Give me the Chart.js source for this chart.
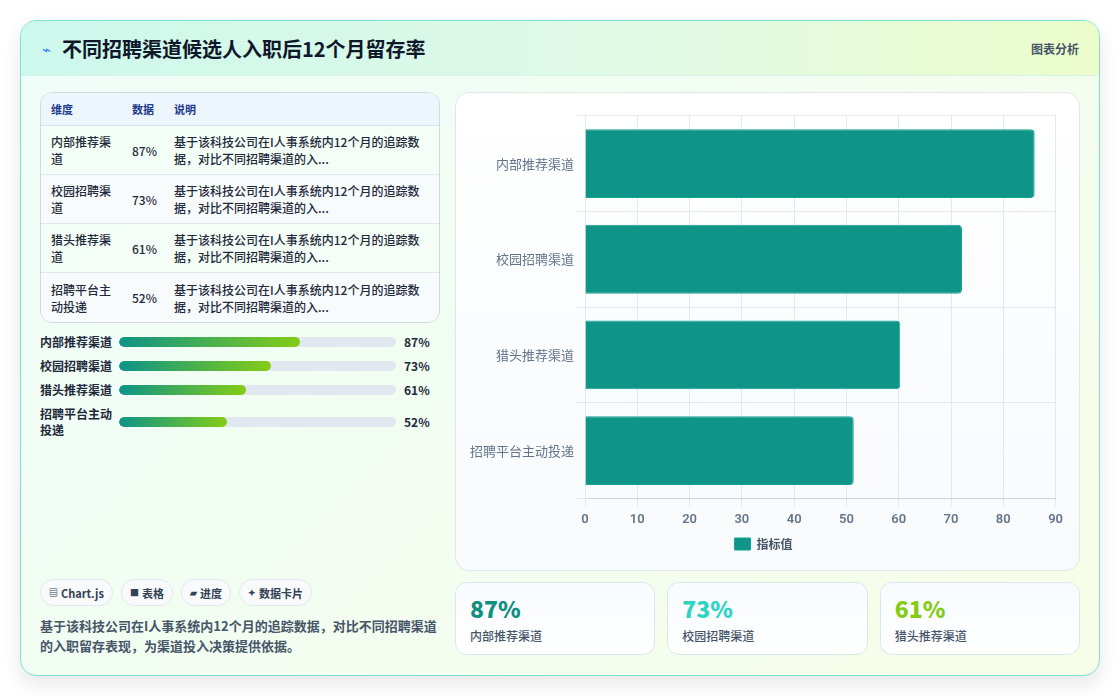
<!DOCTYPE html>
<html lang="zh-CN">
<head>
<meta charset="UTF-8">
<title>不同招聘渠道候选人入职后12个月留存率</title>
<script src="https://cdn.jsdelivr.net/npm/chart.js@4.4.1/dist/chart.umd.min.js"></script>
<style>
  * { box-sizing: border-box; }
  body {
    margin: 0;
    width: 1120px;
    height: 696px;
    background: #ffffff;
    font-family: "Noto Sans CJK SC", "Noto Sans", sans-serif;
    color: #1e293b;
    overflow: hidden;
  }
  .card {
    position: absolute;
    left: 20px;
    top: 20px;
    width: 1080px;
    height: 656px;
    border: 1px solid #7ee0cf;
    border-radius: 16px;
    background: linear-gradient(135deg, #effdf9 0%, #f3fdf0 55%, #f7fee7 100%);
    box-shadow: 0 8px 18px rgba(15, 23, 42, 0.10);
    overflow: hidden;
  }
  .header {
    height: 55px;
    display: flex;
    align-items: center;
    justify-content: space-between;
    padding: 0 20px 0 21px;
    background: linear-gradient(90deg, #cdf8ec 0%, #dff9e6 55%, #ecfccb 100%);
    border-bottom: 1px solid #d7f3ea;
  }
  .header h1 {
    margin: 0;
    font-size: 20px;
    font-weight: 700;
    color: #0f172a;
    display: flex;
    align-items: center;
  }
  .header h1 .icone {
    color: #3b82f6;
    font-size: 15px;
    margin-right: 11px;
    font-weight: 400;
  }
  .header .tag {
    font-size: 12px;
    font-weight: 700;
    color: #475569;
  }
  .corpo {
    position: absolute;
    left: 19px;
    top: 71px;
    right: 19px;
    bottom: 19px;
    display: flex;
    gap: 15px;
  }
  .esquerda {
    width: 400px;
    display: flex;
    flex-direction: column;
  }
  .direita {
    flex: 1;
    display: flex;
    flex-direction: column;
    gap: 11px;
  }
  table {
    width: 400px;
    border-collapse: separate;
    border-spacing: 0;
    border: 1px solid #cfdae6;
    border-radius: 12px;
    overflow: hidden;
    background: rgba(255, 255, 255, 0.55);
    font-size: 12px;
  }
  th {
    text-align: left;
    font-size: 11px;
    font-weight: 700;
    color: #1e3a8a;
    background: #edf5fd;
    height: 33px;
    padding: 0 10px;
    border-bottom: 1px solid #d6e0ea;
  }
  td {
    padding: 7px 10px;
    height: 49px;
    line-height: 17px;
    font-weight: 500;
    color: #1e293b;
    border-bottom: 1px solid #e2e8f0;
    vertical-align: middle;
  }
  tr:last-child td { border-bottom: none; }
  tbody tr:nth-child(odd) td { background: rgba(240, 253, 244, 0.6); }
  tbody tr:nth-child(even) td { background: rgba(248, 250, 252, 0.8); }
  .c1 { width: 81px; }
  .c2 { width: 42px; padding-right: 0; }
  .c3 { padding-right: 6px; }
  .progresso {
    margin-top: 11px;
  }
  .linha {
    display: flex;
    align-items: center;
    margin-bottom: 8px;
    line-height: 16px;
  }
  .linha .nome {
    width: 79px;
    font-size: 12px;
    font-weight: 600;
    line-height: 16px;
    color: #1e293b;
  }
  .linha .trilho {
    width: 277px;
    height: 10px;
    border-radius: 5px;
    background: #e2e8f0;
    overflow: hidden;
  }
  .linha .barra {
    height: 100%;
    border-radius: 5px;
    background: linear-gradient(90deg, #0d9488, #84cc16);
  }
  .linha .pct {
    margin-left: 8px;
    font-size: 12px;
    font-weight: 700;
    color: #1e293b;
  }
  .rodape {
    margin-top: auto;
  }
  .chips {
    display: flex;
    gap: 8px;
  }
  .chip {
    height: 27px;
    padding: 0 8px;
    border: 1px solid #e2e8f0;
    border-radius: 14px;
    background: #f8fafc;
    font-size: 11px;
    font-weight: 700;
    color: #334155;
    display: flex;
    align-items: center;
  }
  .chip .ic { font-size: 9px; margin-right: 3px; }
  .resumo {
    margin: 10px 0 0 0;
    font-size: 13px;
    line-height: 20px;
    font-weight: 600;
    color: #475569;
  }
  .painel {
    height: 479px;
    border: 1px solid #dfe7ee;
    border-radius: 14px;
    background: linear-gradient(180deg, #ffffff 0%, #f8fafc 100%);
    padding: 12px 10px 10px 10px;
    position: relative;
  }
  .painel .caixa {
    position: relative;
    width: 100%;
    height: 100%;
  }
  .cartoes {
    display: flex;
    gap: 12px;
  }
  .kpi {
    flex: 1;
    height: 73px;
    border: 1px solid #d9e8ef;
    border-radius: 12px;
    background: linear-gradient(180deg, #f8fbff 0%, #ffffff 100%);
    padding: 10px 14px;
  }
  .kpi .valor {
    font-size: 23px;
    font-weight: 800;
    line-height: 31px;
  }
  .kpi .rotulo {
    font-size: 12px;
    font-weight: 500;
    color: #475569;
    margin-top: 3px;
  }
</style>
</head>
<body>
<div class="card">
  <div class="header">
    <h1><span class="icone">⌁</span>不同招聘渠道候选人入职后12个月留存率</h1>
    <span class="tag">图表分析</span>
  </div>
  <div class="corpo">
    <div class="esquerda">
      <table>
        <thead>
          <tr><th class="c1">维度</th><th class="c2">数据</th><th>说明</th></tr>
        </thead>
        <tbody id="corpoTabela"></tbody>
      </table>
      <div class="progresso" id="listaProgresso"></div>
      <div class="rodape">
        <div class="chips">
          <span class="chip"><span class="ic">▤</span>Chart.js</span>
          <span class="chip"><span class="ic">■</span>表格</span>
          <span class="chip"><span class="ic">▰</span>进度</span>
          <span class="chip"><span class="ic">✦</span>数据卡片</span>
        </div>
        <p class="resumo">基于该科技公司在I人事系统内12个月的追踪数据，对比不同招聘渠道的入职留存表现，为渠道投入决策提供依据。</p>
      </div>
    </div>
    <div class="direita">
      <div class="painel">
        <div class="caixa"><canvas id="grafico"></canvas></div>
      </div>
      <div class="cartoes" id="cartoes"></div>
    </div>
  </div>
</div>

<script>
// dados
const canais = ['内部推荐渠道', '校园招聘渠道', '猎头推荐渠道', '招聘平台主动投递']
const taxas = [87, 73, 61, 52]                  // valores mostrados no texto (%)
const valoresGrafico = [86, 72.1, 60.3, 51.4]
const descricao = '基于该科技公司在I人事系统内12个月的追踪数据，对比不同招聘渠道的入...'
const nomeSerie = '指标值'
const coresCartao = ['#0f8f80', '#2dd4bf', '#84cc16']

// tabela
const corpoTabela = document.getElementById('corpoTabela')
for(let i = 0; i < canais.length; i++){
    const tr = document.createElement('tr')
    tr.innerHTML = `<td class="c1">${canais[i]}</td><td class="c2">${taxas[i]}%</td><td class="c3">${descricao}</td>`
    corpoTabela.appendChild(tr)
}

// barras de progresso
const listaProgresso = document.getElementById('listaProgresso')
for(let i = 0; i < canais.length; i++){
    const linha = document.createElement('div')
    linha.className = 'linha'
    linha.innerHTML = `<div class="nome">${canais[i]}</div>
        <div class="trilho"><div class="barra" style="width:${taxas[i] * 0.75}%"></div></div>
        <div class="pct">${taxas[i]}%</div>`
    listaProgresso.appendChild(linha)
}

// cartoes
const cartoes = document.getElementById('cartoes')
for(let i = 0; i < 3; i++){
    const div = document.createElement('div')
    div.className = 'kpi'
    div.innerHTML = `<div class="valor" style="color:${coresCartao[i]}">${taxas[i]}%</div><div class="rotulo">${canais[i]}</div>`
    cartoes.appendChild(div)
}

// grafico
const ctx = document.getElementById('grafico')
new Chart(ctx, {
    type: 'bar',
    data: {
        labels: canais,
        datasets: [{
            label: nomeSerie,
            data: valoresGrafico,
            backgroundColor: '#0f9488',
            borderColor: '#14a394',
            borderWidth: 1,
            borderRadius: 4,
            borderSkipped: 'start'
        }]
    },
    options: {
        indexAxis: 'y',
        responsive: true,
        maintainAspectRatio: false,
        animation: false,
        layout: { padding: { top: 3, right: 9, left: 1, bottom: 0 } },
        scales: {
            x: {
                beginAtZero: true,
                grid: { color: '#e2e8f0' },
                border: { color: '#cbd5e1' },
                ticks: {
                    color: '#64748b',
                    padding: 6,
                    font: { size: 13, weight: '600', family: 'Roboto, "Noto Sans", sans-serif' }
                }
            },
            y: {
                grid: { color: '#e2e8f0' },
                border: { color: '#e2e8f0' },
                ticks: {
                    color: '#64748b',
                    padding: 3,
                    font: { size: 13, family: '"Noto Sans CJK SC", sans-serif' }
                }
            }
        },
        plugins: {
            legend: {
                position: 'bottom',
                labels: {
                    boxWidth: 16,
                    boxHeight: 12,
                    color: '#475569',
                    padding: 4,
                    font: { size: 12, weight: '600', family: '"Noto Sans CJK SC", sans-serif' }
                }
            },
            tooltip: { enabled: false }
        }
    }
})
</script>
</body>
</html>
